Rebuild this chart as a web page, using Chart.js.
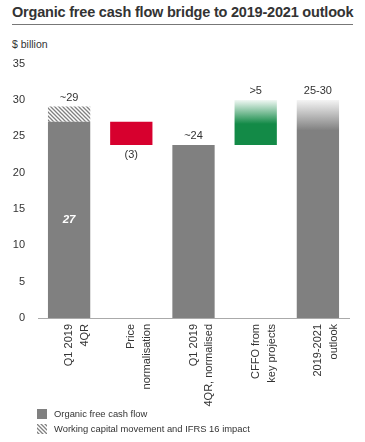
<!DOCTYPE html>
<html>
<head>
<meta charset="utf-8">
<script src="https://cdn.jsdelivr.net/npm/chart.js@4.4.0/dist/chart.umd.min.js"></script>
<style>
  body { margin: 0; background: #fff; font-family: "Liberation Sans", Arial, sans-serif; color: #333; }
  #wrap { position: relative; width: 365px; height: 442px; overflow: hidden; }
  #titulo { position: absolute; left: 12px; top: 4px; width: 341px; font-size: 14.5px; font-weight: bold; color: #333;
            border-bottom: 1px solid #777; padding-bottom: 4px; white-space: nowrap; letter-spacing: -0.2px; }
  #unidade { position: absolute; left: 12px; top: 38px; font-size: 10.5px; color: #333; }
  #divCanvas { position: absolute; left: 0; top: 44px; width: 365px; height: 376px; }
  #legenda { position: absolute; left: 37px; top: 406px; font-size: 9.4px; color: #333; }
  .item { height: 15px; line-height: 13px; display: flex; align-items: center; }
  .caixa { width: 10px; height: 10px; margin-right: 7px; }
</style>
</head>
<body>
<div id="wrap">
  <div id="titulo">Organic free cash flow bridge to 2019-2021 outlook</div>
  <div id="unidade">$ billion</div>
  <div id="divCanvas"><canvas id="graficoBridge" width="365" height="376"></canvas></div>
  <div id="legenda">
    <div class="item"><span class="caixa" style="background:#808080"></span>Organic free cash flow</div>
    <div class="item"><canvas class="caixa" id="caixaHachura" width="10" height="10"></canvas>Working capital movement and IFRS 16 impact</div>
  </div>
</div>
<script>
// dados
var categorias = [["Q1 2019", "4QR"], ["Price", "normalisation"], ["Q1 2019", "4QR, normalised"], ["CFFO from", "key projects"], ["2019-2021", "outlook"]];
var fluxoCaixa = [[0, 27], null, [0, 23.8], null, null];
var capitalGiro = [[27, 29.1], null, null, null, null];
var normalizacaoPreco = [null, [23.8, 27], null, null, null];
var projetosChave = [null, null, null, [23.8, 30], null];
var perspectiva = [null, null, null, null, [0, 30]];
var rotulosTopo = ["~29", "(3)", "~24", ">5", "25-30"];
var rotuloInterno = ["27", null, null, null, null];
var yTicks = [0, 5, 10, 15, 20, 25, 30, 35];

function criarHachura() {
  var c = document.createElement("canvas");
  c.width = 4; c.height = 4;
  var ctx = c.getContext("2d");
  ctx.fillStyle = "#fff";
  ctx.fillRect(0, 0, 4, 4);
  ctx.strokeStyle = "#808080";
  ctx.lineWidth = 1.3;
  ctx.beginPath();
  ctx.moveTo(-1, -1); ctx.lineTo(5, 5);
  ctx.moveTo(-1, 3); ctx.lineTo(1, 5);
  ctx.moveTo(3, -1); ctx.lineTo(5, 1);
  ctx.stroke();
  return c;
}
var hachuraCanvas = criarHachura();

// legenda hachurada
(function () {
  var cx = document.getElementById("caixaHachura").getContext("2d");
  cx.fillStyle = cx.createPattern(hachuraCanvas, "repeat");
  cx.fillRect(0, 0, 10, 10);
})();

function gradiente(chart, topo, solido, cor, corTopo) {
  var y = chart.scales.y;
  if (!chart.chartArea || !y) return cor;
  var p0 = y.getPixelForValue(topo), p1 = y.getPixelForValue(solido);
  if (!isFinite(p0) || !isFinite(p1)) return cor;
  var g = chart.ctx.createLinearGradient(0, p0, 0, p1);
  g.addColorStop(0, corTopo);
  g.addColorStop(1, cor);
  return g;
}

var rotulosPlugin = {
  id: "rotulos",
  afterDatasetsDraw: function (chart) {
    var ctx = chart.ctx, x = chart.scales.x, y = chart.scales.y;
    ctx.save();
    ctx.textAlign = "center";
    ctx.textBaseline = "middle";
    ctx.fillStyle = "#333";
    ctx.font = "11px 'Liberation Sans', Arial, sans-serif";
    var topos = [29.1, 27, 23.8, 30, 30];
    for (var i = 0; i < rotulosTopo.length; i++) {
      var px = x.getPixelForValue(i);
      if (i === 1) {
        ctx.fillText(rotulosTopo[i], px, y.getPixelForValue(normalizacaoPreco[1][0]) + 10);
      } else {
        ctx.fillText(rotulosTopo[i], px, y.getPixelForValue(topos[i]) - 9);
      }
      if (rotuloInterno[i]) {
        ctx.save();
        ctx.fillStyle = "#fff";
        ctx.font = "italic bold 11.5px 'Liberation Sans', Arial, sans-serif";
        ctx.fillText(rotuloInterno[i], px, y.getPixelForValue(13.5));
        ctx.restore();
      }
    }
    ctx.restore();
  }
};

var grafico = new Chart(document.getElementById("graficoBridge"), {
  type: "bar",
  data: {
    labels: categorias,
    datasets: [
      { data: fluxoCaixa, backgroundColor: "#808080" },
      { data: capitalGiro, backgroundColor: function (c) { return c.chart.ctx.createPattern(hachuraCanvas, "repeat"); } },
      { data: normalizacaoPreco, backgroundColor: "#d7002e" },
      { data: projetosChave, backgroundColor: function (c) { return gradiente(c.chart, 30.2, 26.7, "#138a47", "rgba(255,255,255,1)"); } },
      { data: perspectiva, backgroundColor: function (c) { return gradiente(c.chart, 30.2, 25.8, "#808080", "#fafafa"); } }
    ]
  },
  options: {
    responsive: false,
    animation: false,
    layout: { padding: { top: 6, right: 16, left: 0, bottom: 0 } },
    plugins: { legend: { display: false }, tooltip: { enabled: false } },
    datasets: { bar: { barPercentage: 0.68, categoryPercentage: 1, borderWidth: 0, borderSkipped: false } },
    scales: {
      x: {
        stacked: true,
        grid: { display: false, drawTicks: false },
        border: { display: true, color: "#aaa", width: 1 },
        ticks: { minRotation: 90, maxRotation: 90, autoSkip: false, padding: 6, color: "#333",
                 font: { family: "'Liberation Sans', Arial, sans-serif", size: 11, lineHeight: 1.45 } },
        afterFit: function (s) { s.height = 102; }
      },
      y: {
        min: 0, max: 35,
        grid: { display: false, drawTicks: false },
        border: { display: false },
        afterBuildTicks: function (s) { s.ticks = yTicks.map(function (v) { return { value: v }; }); },
        ticks: { padding: 13, color: "#333", font: { family: "'Liberation Sans', Arial, sans-serif", size: 11 } },
        afterFit: function (s) { s.width = 38; }
      }
    }
  },
  plugins: [rotulosPlugin]
});
</script>
</body>
</html>
